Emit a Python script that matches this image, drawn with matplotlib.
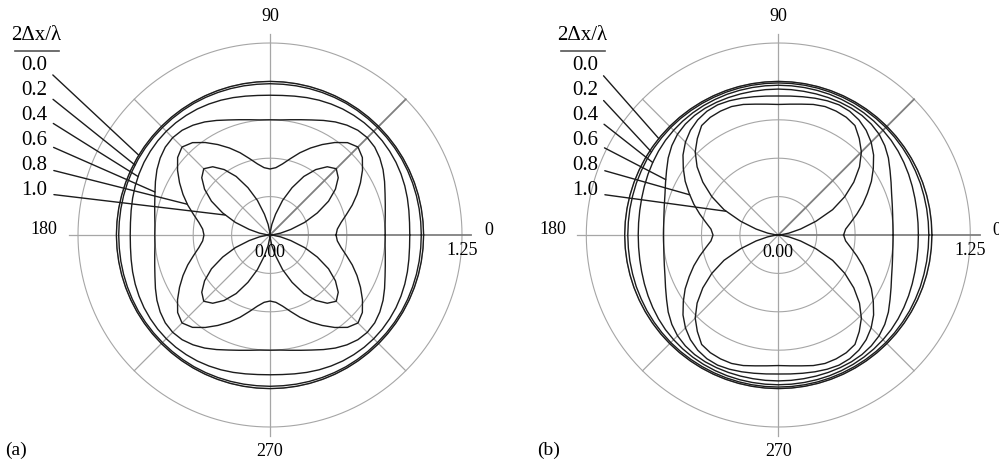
import numpy as np
import matplotlib
matplotlib.use("Agg")
import matplotlib.pyplot as plt
from matplotlib.lines import Line2D

plt.rcParams['font.family'] = ['Liberation Serif', 'DejaVu Serif']

# normalised response vs. direction for each grid resolution 2*dx/lambda
spacing_labels = ['0.0', '0.2', '0.4', '0.6', '0.8', '1.0']

# (a): sampled every 5 deg over 0..45 deg (pattern repeats by symmetry)
angles_a = np.arange(0, 46, 5)
resp_a = [
    [1.000, 1.000, 1.000, 1.000, 1.000, 1.000, 1.000, 1.000, 1.000, 1.000],
    [0.985, 0.985, 0.986, 0.987, 0.988, 0.989, 0.990, 0.990, 0.990, 0.990],
    [0.910, 0.912, 0.918, 0.926, 0.934, 0.941, 0.947, 0.951, 0.954, 0.955],
    [0.750, 0.752, 0.762, 0.777, 0.797, 0.823, 0.850, 0.873, 0.890, 0.896],
    [0.430, 0.440, 0.470, 0.515, 0.570, 0.625, 0.680, 0.735, 0.785, 0.810],
    [0.000, 0.020, 0.070, 0.140, 0.240, 0.340, 0.440, 0.520, 0.580, 0.610],
]

# (b): sampled every 5 deg over 0..90 deg
angles_b = np.arange(0, 91, 5)
resp_b = [
    [1.000] * 19,
    [0.980, 0.980, 0.981, 0.982, 0.984, 0.985, 0.987, 0.988, 0.989, 0.990,
     0.990, 0.990, 0.990, 0.990, 0.990, 0.990, 0.990, 0.990, 0.990],
    [0.912, 0.913, 0.916, 0.921, 0.928, 0.936, 0.944, 0.952, 0.959, 0.964,
     0.968, 0.971, 0.973, 0.974, 0.975, 0.975, 0.975, 0.975, 0.975],
    [0.747, 0.749, 0.756, 0.768, 0.785, 0.810, 0.840, 0.875, 0.905, 0.928,
     0.942, 0.950, 0.953, 0.953, 0.952, 0.951, 0.950, 0.950, 0.950],
    [0.425, 0.440, 0.480, 0.530, 0.585, 0.640, 0.700, 0.755, 0.810, 0.855,
     0.890, 0.915, 0.930, 0.935, 0.930, 0.922, 0.914, 0.908, 0.905],
    [0.000, 0.020, 0.070, 0.150, 0.260, 0.390, 0.500, 0.600, 0.690, 0.765,
     0.820, 0.870, 0.885, 0.890, 0.890, 0.880, 0.865, 0.855, 0.850],
]

# where each label's leader line meets its curve (deg)
leader_deg_a = [148.7, 152.6, 156.1, 159.5, 159.6, 156.0]
leader_deg_b = [141.1, 146.8, 150.0, 153.8, 155.6, 155.6]

W, H = 999, 465
RMAX = 1.25
GRID = '#a6a6a6'
GRID_DARK = '#808080'
INK = '#1c1c1c'


def full_curve(angles, values, fold):
    # unfold the sampled sector into a closed 0..360 curve using the symmetry
    theta = np.arange(0, 361, 5)
    t = theta % 180
    t = np.minimum(t, 180 - t)
    if fold == 45:
        t = np.minimum(t, 90 - t)
    step = angles[1] - angles[0]
    r = np.asarray(values)[(t // step).astype(int)]
    return theta, r


def polar_panel(cx, fold, angles, resps, leader_deg, lab_right, head_x, tag, tag_x):
    size = 2 * 192
    ax = fig.add_axes([(cx - 192) / W, (H - 235 - 192) / H, size / W, size / H],
                      projection='polar')
    ax.set_ylim(0, RMAX)
    ax.axis('off')

    ring = np.radians(np.arange(0, 361, 1))
    for rr in [0.25, 0.5, 0.75, 1.0, 1.25]:
        ax.plot(ring, np.full_like(ring, rr), color=GRID, lw=0.8,
                clip_on=False, zorder=1)
    for ang in [90, 180, 270]:
        ax.plot([np.radians(ang)] * 2, [0, 1.31], color=GRID, lw=0.9,
                clip_on=False, zorder=1)
    for ang in [135, 225, 315]:
        ax.plot([np.radians(ang)] * 2, [0, RMAX], color=GRID, lw=0.9,
                clip_on=False, zorder=1)
    ax.plot([0, 0], [0, 1.31], color=GRID_DARK, lw=1.3, clip_on=False, zorder=1)
    ax.plot([np.radians(45)] * 2, [0, RMAX], color=GRID_DARK, lw=1.3,
            clip_on=False, zorder=1)

    curves = []
    for vals in resps:
        th, r = full_curve(angles, vals, fold)
        ax.plot(np.radians(th), r, color=INK, lw=1.0, clip_on=False, zorder=3)
        curves.append((th, r))

    fs_ax = 13
    ax.text(np.radians(90), 1.42, '90', ha='center', va='center', fontsize=fs_ax)
    ax.text(np.radians(270), 1.41, '270', ha='center', va='center', fontsize=fs_ax)
    ax.text(np.radians(178.7), 1.47, '180', ha='center', va='center', fontsize=fs_ax)
    ax.text(np.radians(1.3), 1.425, '0', ha='center', va='center', fontsize=fs_ax)
    ax.text(np.radians(270), 0.117, '0.00', ha='center', va='center', fontsize=fs_ax)
    ax.annotate('1.25', xy=(0, RMAX), xytext=(0, -11), textcoords='offset points',
                ha='center', va='center', fontsize=fs_ax)

    label_y = [65.7, 90.7, 115.7, 140.7, 165.0, 190.0]
    for lbl, ly, deg, (th, r) in zip(spacing_labels, label_y, leader_deg, curves):
        r_end = np.interp(deg, th, r)
        ax.annotate(lbl, xy=(np.radians(deg), r_end),
                    xytext=(lab_right / W, 1 - ly / H), textcoords='figure fraction',
                    ha='right', va='center', fontsize=15,
                    arrowprops=dict(arrowstyle='-', color=INK, lw=1.0,
                                    shrinkA=3, shrinkB=0, relpos=(1.0, 0.3)))

    fig.text(head_x / W, 1 - 36 / H, '2\u0394x/\u03bb', ha='center', va='center',
             fontsize=15)
    fig.add_artist(Line2D([(head_x - 22) / W, (head_x + 22) / W],
                          [1 - 51 / H, 1 - 51 / H], color='#555555', lw=1.2))
    fig.text(tag_x / W, 1 - 450 / H, tag, ha='left', va='center', fontsize=14)
    return ax


fig = plt.figure(figsize=(W / 100, H / 100), dpi=100)
polar_panel(270, 45, angles_a, resp_a, leader_deg_a, 47, 36.5, '(a)', 5)
polar_panel(778.3, 90, angles_b, resp_b, leader_deg_b, 598, 582.5, '(b)', 537)

fig.savefig('out.png', dpi=100)
